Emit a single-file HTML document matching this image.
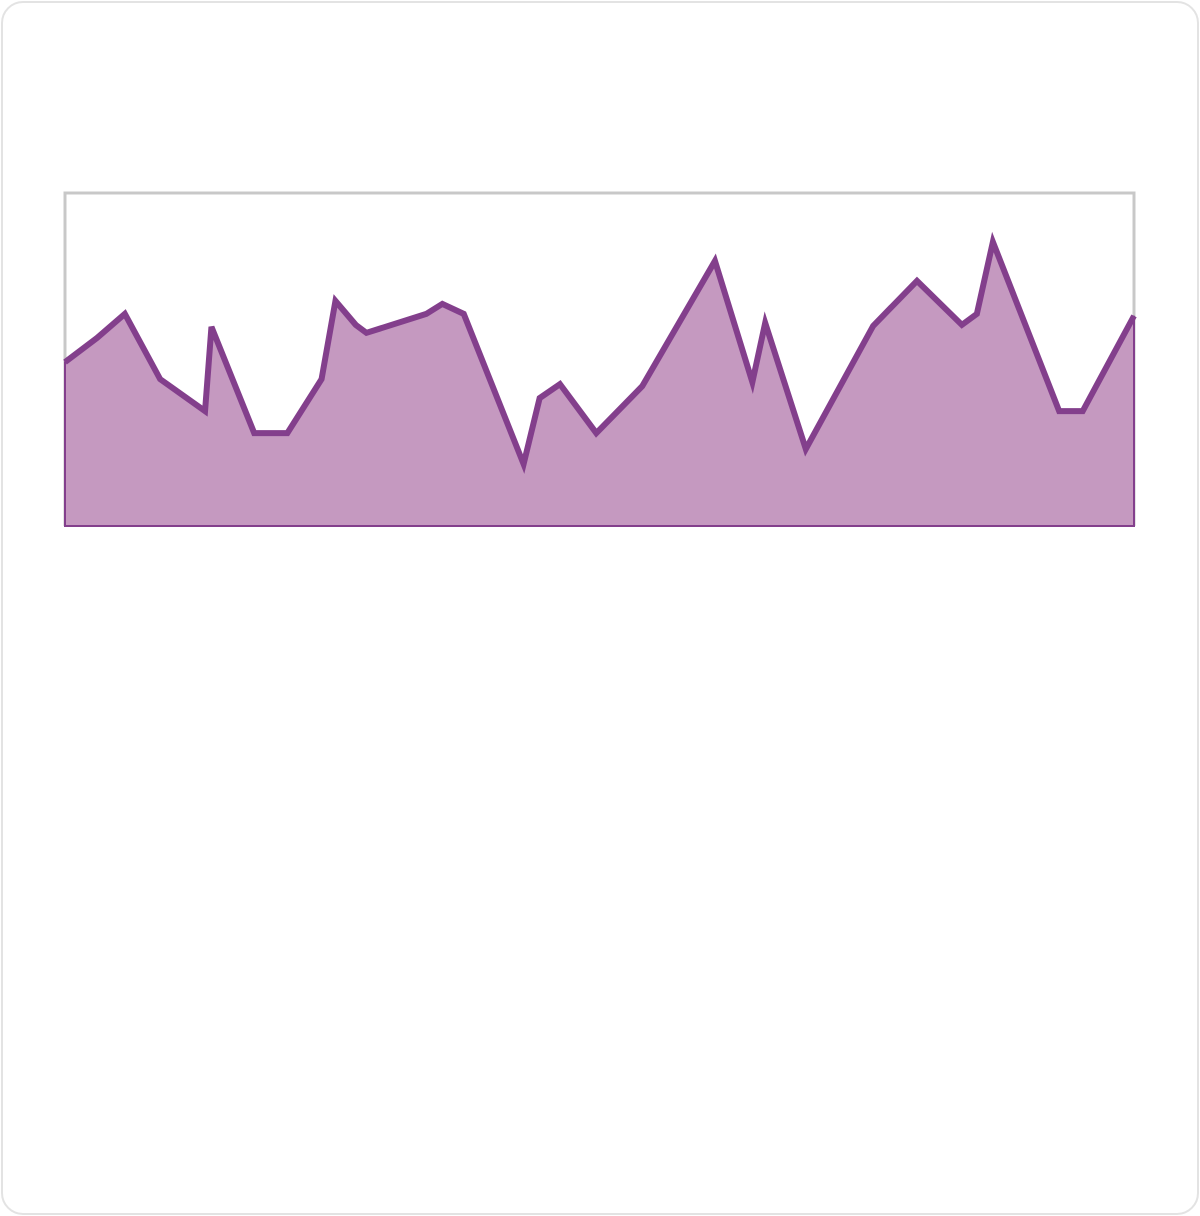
<!DOCTYPE html>
<html><head><meta charset="utf-8"><style>
html,body{margin:0;padding:0;background:#fff;}
#card{position:absolute;left:1px;top:1px;width:1194px;height:1210px;border:2px solid #e3e3e3;border-radius:22px;background:#fff;}
svg{position:absolute;left:0;top:0;}
</style></head><body>
<div id="card"></div>
<svg id="chart" width="1200" height="1216"></svg>
<script>
const xValues=[0,3.0,5.6,8.9,13.1,13.7,17.7,20.8,24.0,25.3,27.2,28.2,33.8,35.3,37.3,42.9,44.4,46.3,49.7,54.0,60.8,64.3,65.5,69.3,75.6,79.7,83.9,85.3,86.8,93.0,95.2,100];
const yValues=[49.2,56.5,63.7,44.1,34.5,59.8,27.9,27.9,44.1,67.6,60.4,58.0,63.7,66.7,63.7,18.6,38.4,42.6,27.9,42.0,79.6,43.2,61.0,23.1,60.1,73.6,60.4,63.7,85.3,34.5,34.5,63.1];
const L=65,R=1134,T=193,B=526;
const sx=v=>L+(v-0)/100*(R-L);
const sy=v=>B-(v-0)/100*(B-T);
const ns="http://www.w3.org/2000/svg";
const svg=document.getElementById('chart');
function mk(tag,attrs){const e=document.createElementNS(ns,tag);for(const k in attrs)e.setAttribute(k,attrs[k]);svg.appendChild(e);return e;}
const frame=mk('path',{d:`M${L},${B} L${L},${T} L${R},${T} L${R},${B}`,fill:'none',stroke:'#c8c8c8','stroke-width':3});


let pts=xValues.map((x,i)=>`${sx(x)},${sy(yValues[i])}`);
const area=mk('path',{d:`M${sx(xValues[0])},${B} L${pts.join(' L')} L${sx(xValues[xValues.length-1])},${B} Z`,fill:'#c599c0',stroke:'#833f8c','stroke-width':2});


const line=mk('path',{d:`M${pts.join(' L')}`,fill:'none',stroke:'#833f8c','stroke-width':6,'stroke-linejoin':'miter'});


</script>
</body></html>
